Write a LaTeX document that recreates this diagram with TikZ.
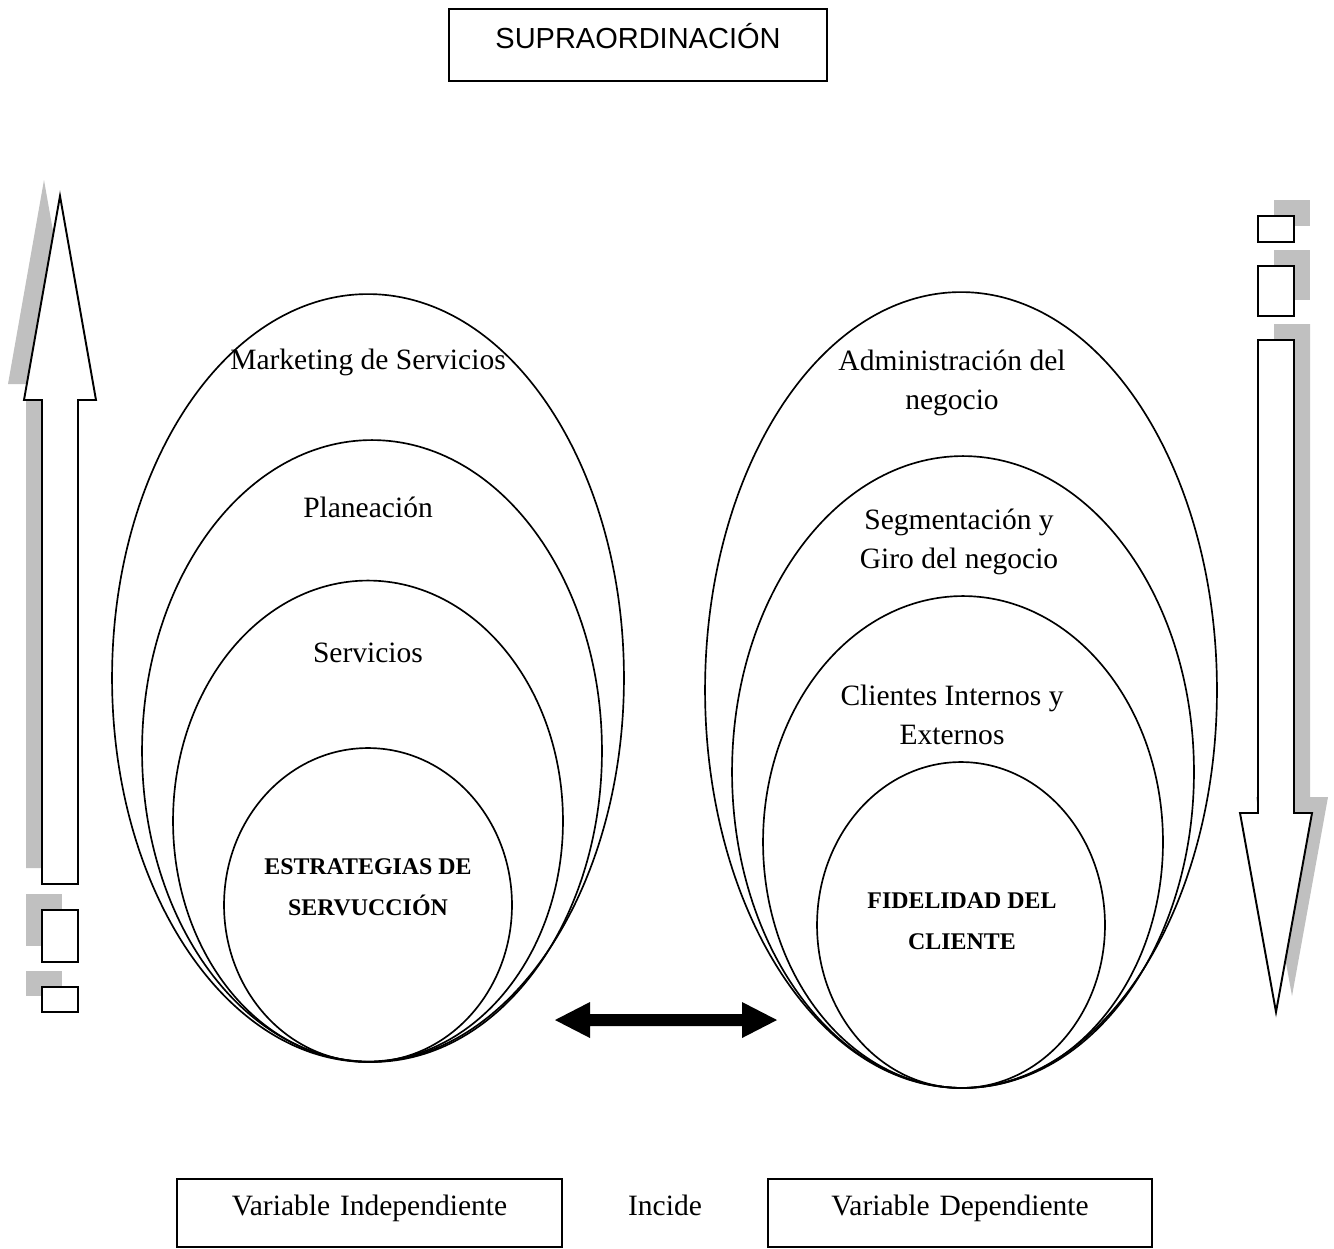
\documentclass[tikz,border=0pt]{standalone}
\usepackage{fontspec}
\setmainfont{Liberation Serif}
\newfontfamily\arialfont{Liberation Sans}
\usetikzlibrary{shapes.geometric,calc}
\definecolor{shadowgrey}{HTML}{C0C0C0}
\begin{document}
\begin{tikzpicture}[x=0.02cm,y=-0.02cm,
  ring/.style={draw,ellipse,line width=0.95pt,inner sep=0pt},
  caption/.style={font=\fontsize{16.8}{22.5}\selectfont,align=center,inner sep=0pt},
  core/.style={font=\fontsize{13.6}{23.5}\selectfont\bfseries,align=center,inner sep=0pt},
  frame/.style={draw,line width=1.1pt,inner sep=0pt,align=center},
  outline/.style={draw,fill=white,line width=1.1pt,line join=miter},
  shadow/.style={fill=shadowgrey}]
\useasboundingbox (0,0) rectangle (1334,1248);

% title box
\node[frame,anchor=base,text width=7.56cm,text height=0.78cm,text depth=0.66cm,
      font=\arialfont\fontsize{16.5}{20}\selectfont] (supra) at (638,48) {SUPRAORDINACIÓN};

% left rising arrow with its blocks
\begin{scope}[shift={(-16,-16)}]
  \fill[shadow] (42,884) -- (42,400) -- (24,400) -- (60,196) -- (96,400) -- (78,400) -- (78,884) -- cycle;
  \fill[shadow] (42,910) rectangle (78,962);
  \fill[shadow] (42,987) rectangle (78,1012);
\end{scope}
\path[outline] (42,884) -- (42,400) -- (24,400) -- (60,196) -- (96,400) -- (78,400) -- (78,884) -- cycle;
\path[outline] (42,910) rectangle (78,962);
\path[outline] (42,987) rectangle (78,1012);

% right falling arrow with its blocks
\begin{scope}[shift={(16,-16)}]
  \fill[shadow] (1258,340) -- (1294,340) -- (1294,813) -- (1312,813) -- (1276,1012) -- (1240,813) -- (1258,813) -- cycle;
  \fill[shadow] (1258,216) rectangle (1294,242);
  \fill[shadow] (1258,266) rectangle (1294,316);
\end{scope}
\path[outline] (1258,340) -- (1294,340) -- (1294,813) -- (1312,813) -- (1276,1012) -- (1240,813) -- (1258,813) -- cycle;
\path[outline] (1258,216) rectangle (1294,242);
\path[outline] (1258,266) rectangle (1294,316);

% independent variable: nested ellipses
\node[ring,minimum width=10.24cm,minimum height=15.36cm] (mkt) at (368,678) {};
\node[ring,minimum width=9.2cm,minimum height=12.44cm] (plan) at (372,751) {};
\node[ring,minimum width=7.8cm,minimum height=9.62cm] (serv) at (368,821) {};
\node[ring,minimum width=5.76cm,minimum height=6.28cm] (estr) at (368,905) {};

\node[caption] (mkttext) at (368,362) {Marketing de Servicios};
\node[caption] (plantext) at (368,507) {Planeación};
\node[caption] (servtext) at (368,653) {Servicios};
\node[core] (estrtext) at (368,887) {ESTRATEGIAS DE\\SERVUCCIÓN};

% dependent variable: nested ellipses
\node[ring,minimum width=10.24cm,minimum height=15.92cm] (adm) at (961,690) {};
\node[ring,minimum width=9.24cm,minimum height=12.64cm] (seg) at (963,772) {};
\node[ring,minimum width=8.0cm,minimum height=9.84cm] (cli) at (963,842) {};
\node[ring,minimum width=5.76cm,minimum height=6.52cm] (fid) at (961,925) {};

\node[caption] (admtext) at (952,383) {Administración del\\negocio};
\node[caption] (segtext) at (959,542) {Segmentación y\\Giro del negocio};
\node[caption] (clitext) at (952,715) {Clientes Internos y\\Externos};
\node[core] (fidtext) at (962,921) {FIDELIDAD DEL\\CLIENTE};

% two-headed arrow between the groups
\coordinate (la) at (555,1020);
\coordinate (ra) at (777,1020);
\fill (la) -- ($(la)+(35,-18)$) -- ($(la)+(35,-6)$) -- ($(ra)+(-35,-6)$) -- ($(ra)+(-35,-18)$)
  -- (ra) -- ($(ra)+(-35,18)$) -- ($(ra)+(-35,6)$) -- ($(la)+(35,6)$) -- ($(la)+(35,18)$) -- cycle;

% bottom labels
\node[frame,anchor=base,text width=7.7cm,text height=0.72cm,text depth=0.64cm,
      font=\fontsize{16.8}{22.5}\selectfont] (vi) at (369.5,1215) {Variable Independiente};
\node[caption,anchor=base] (incide) at (665,1215) {Incide};
\node[frame,anchor=base,text width=7.68cm,text height=0.72cm,text depth=0.64cm,
      font=\fontsize{16.8}{22.5}\selectfont] (vd) at (960,1215) {Variable Dependiente};
\end{tikzpicture}
\end{document}
